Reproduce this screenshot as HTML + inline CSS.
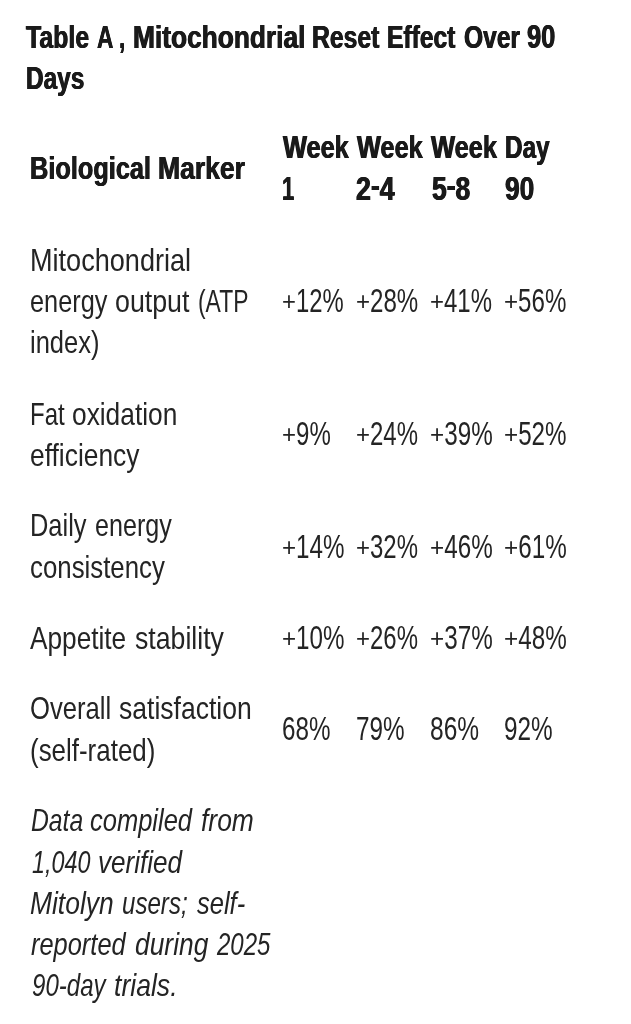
<!DOCTYPE html>
<html lang="en">
<head>
<meta charset="utf-8">
<title>Table A, Mitochondrial Reset Effect Over 90 Days</title>
<style>
html,body{margin:0;padding:0;background:#fff;}
body{width:631px;height:1024px;position:relative;overflow:hidden;font-family:"Liberation Sans",Arial,Helvetica,sans-serif;}
.t{position:absolute;display:block;white-space:nowrap;font-size:32px;line-height:40px;height:40px;transform-origin:0 31.09px;color:#242424;}
.g{margin:0;padding:0;font:inherit;}
.b{font-weight:bold;color:#1a1a1a;text-shadow:0.5px 0 0 #1a1a1a,-0.5px 0 0 #1a1a1a;}
.r{font-weight:normal;}
.i{font-style:italic;}
.h{position:relative;top:-2.7px;}
.p{display:inline-block;transform:scaleY(0.783);transform-origin:50% 20.55px;}
</style>
</head>
<body>
<h1 class="g"><!-- title -->
<span class="t b" style="left:26.10px;top:16.81px;transform:scaleX(0.7773)">Table</span>
<span class="t b" style="left:96.50px;top:16.81px;transform:scaleX(0.7087)">A</span>
<span class="t b" style="left:119.30px;top:16.81px;transform:scaleX(0.7000)">,</span>
<span class="t b" style="left:132.66px;top:16.81px;transform:scaleX(0.8219)">Mitochondrial</span>
<span class="t b" style="left:311.75px;top:16.81px;transform:scaleX(0.7731)">Reset</span>
<span class="t b" style="left:387.06px;top:16.81px;transform:scaleX(0.7691)">Effect</span>
<span class="t b" style="left:464.13px;top:16.81px;transform:scaleX(0.7680)">Over</span>
<span class="t b n" style="left:527.40px;top:16.81px;transform:scale(0.7959,1.035)">90</span>
<span class="t b" style="left:25.87px;top:58.01px;transform:scaleX(0.7625)">Days</span>
</h1>
<div class="g"><!-- header -->
<span class="t b" style="left:30.22px;top:147.91px;transform:scaleX(0.7912)">Biological</span>
<span class="t b" style="left:158.34px;top:147.91px;transform:scaleX(0.8293)">Marker</span>
<span class="t b" style="left:282.80px;top:127.11px;transform:scaleX(0.7931)">Week</span>
<span class="t b" style="left:357.00px;top:127.11px;transform:scaleX(0.7919)">Week</span>
<span class="t b" style="left:431.10px;top:127.11px;transform:scaleX(0.7955)">Week</span>
<span class="t b" style="left:504.68px;top:127.11px;transform:scaleX(0.7591)">Day</span>
<span class="t b n" style="left:281.93px;top:168.91px;transform:scale(0.6867,1.035)">1</span>
<span class="t b n" style="left:356.16px;top:168.91px;transform:scale(0.8360,1.035)">2<span class="h">-</span>4</span>
<span class="t b n" style="left:432.00px;top:168.91px;transform:scale(0.8272,1.035)">5<span class="h">-</span>8</span>
<span class="t b n" style="left:504.68px;top:168.91px;transform:scale(0.8226,1.035)">90</span>
</div>
<div class="g"><!-- row 1 -->
<span class="t r" style="left:30.21px;top:239.91px;transform:scaleX(0.8464)">Mitochondrial</span>
<span class="t r" style="left:29.91px;top:280.71px;transform:scaleX(0.7910)">energy</span>
<span class="t r" style="left:115.16px;top:280.71px;transform:scaleX(0.8368)">output</span>
<span class="t r" style="left:198.09px;top:280.71px;transform:scaleX(0.7144)">(ATP</span>
<span class="t r" style="left:29.80px;top:321.91px;transform:scaleX(0.7976)">index)</span>
<span class="t r n" style="left:282.15px;top:280.71px;transform:scale(0.7456,1.035)"><span class="p">+</span>12%</span>
<span class="t r n" style="left:356.05px;top:280.71px;transform:scale(0.7529,1.035)"><span class="p">+</span>28%</span>
<span class="t r n" style="left:430.45px;top:280.71px;transform:scale(0.7493,1.035)"><span class="p">+</span>41%</span>
<span class="t r n" style="left:504.25px;top:280.71px;transform:scale(0.7542,1.035)"><span class="p">+</span>56%</span>
</div>
<div class="g"><!-- row 2 -->
<span class="t r" style="left:30.40px;top:393.71px;transform:scaleX(0.7510)">Fat</span>
<span class="t r" style="left:71.98px;top:393.71px;transform:scaleX(0.8220)">oxidation</span>
<span class="t r" style="left:29.58px;top:434.71px;transform:scaleX(0.8239)">efficiency</span>
<span class="t r n" style="left:281.95px;top:413.91px;transform:scale(0.7514,1.035)"><span class="p">+</span>9%</span>
<span class="t r n" style="left:356.05px;top:413.91px;transform:scale(0.7493,1.035)"><span class="p">+</span>24%</span>
<span class="t r n" style="left:429.94px;top:413.91px;transform:scale(0.7579,1.035)"><span class="p">+</span>39%</span>
<span class="t r n" style="left:504.24px;top:413.91px;transform:scale(0.7566,1.035)"><span class="p">+</span>52%</span>
</div>
<div class="g"><!-- row 3 -->
<span class="t r" style="left:30.31px;top:505.31px;transform:scaleX(0.7942)">Daily</span>
<span class="t r" style="left:95.22px;top:505.31px;transform:scaleX(0.7848)">energy</span>
<span class="t r" style="left:29.79px;top:546.51px;transform:scaleX(0.8069)">consistency</span>
<span class="t r n" style="left:281.94px;top:526.51px;transform:scale(0.7554,1.035)"><span class="p">+</span>14%</span>
<span class="t r n" style="left:356.05px;top:526.51px;transform:scale(0.7493,1.035)"><span class="p">+</span>32%</span>
<span class="t r n" style="left:429.94px;top:526.51px;transform:scale(0.7579,1.035)"><span class="p">+</span>46%</span>
<span class="t r n" style="left:504.24px;top:526.51px;transform:scale(0.7579,1.035)"><span class="p">+</span>61%</span>
</div>
<div class="g"><!-- row 4 -->
<span class="t r" style="left:30.30px;top:618.01px;transform:scaleX(0.8189)">Appetite</span>
<span class="t r" style="left:134.90px;top:618.01px;transform:scaleX(0.8332)">stability</span>
<span class="t r n" style="left:281.94px;top:618.01px;transform:scale(0.7554,1.035)"><span class="p">+</span>10%</span>
<span class="t r n" style="left:356.05px;top:618.01px;transform:scale(0.7493,1.035)"><span class="p">+</span>26%</span>
<span class="t r n" style="left:429.94px;top:618.01px;transform:scale(0.7579,1.035)"><span class="p">+</span>37%</span>
<span class="t r n" style="left:504.24px;top:618.01px;transform:scale(0.7579,1.035)"><span class="p">+</span>48%</span>
</div>
<div class="g"><!-- row 5 -->
<span class="t r" style="left:29.90px;top:688.41px;transform:scaleX(0.8010)">Overall</span>
<span class="t r" style="left:118.80px;top:688.41px;transform:scaleX(0.8289)">satisfaction</span>
<span class="t r" style="left:30.49px;top:729.61px;transform:scaleX(0.8103)">(self-rated)</span>
<span class="t r n" style="left:281.94px;top:708.91px;transform:scale(0.7573,1.035)">68%</span>
<span class="t r n" style="left:356.04px;top:708.91px;transform:scale(0.7589,1.035)">79%</span>
<span class="t r n" style="left:429.53px;top:708.91px;transform:scale(0.7668,1.035)">86%</span>
<span class="t r n" style="left:504.24px;top:708.91px;transform:scale(0.7605,1.035)">92%</span>
</div>
<p class="g"><!-- footnote -->
<span class="t i" style="left:30.70px;top:799.71px;transform:scaleX(0.7710)">Data</span>
<span class="t i" style="left:90.30px;top:799.71px;transform:scaleX(0.7968)">compiled</span>
<span class="t i" style="left:200.97px;top:799.71px;transform:scaleX(0.8261)">from</span>
<span class="t i" style="left:32.30px;top:841.51px;transform:scaleX(0.7299)">1,040</span>
<span class="t i" style="left:98.39px;top:841.51px;transform:scaleX(0.8146)">verified</span>
<span class="t i" style="left:30.20px;top:882.91px;transform:scaleX(0.8254)">Mitolyn</span>
<span class="t i" style="left:122.25px;top:882.91px;transform:scaleX(0.7531)">users;</span>
<span class="t i" style="left:196.60px;top:882.91px;transform:scaleX(0.7960)">self-</span>
<span class="t i" style="left:30.70px;top:923.91px;transform:scaleX(0.7941)">reported</span>
<span class="t i" style="left:134.88px;top:923.91px;transform:scaleX(0.8247)">during</span>
<span class="t i" style="left:216.55px;top:923.91px;transform:scaleX(0.7515)">2025</span>
<span class="t i" style="left:31.55px;top:965.31px;transform:scaleX(0.7517)">90-day</span>
<span class="t i" style="left:114.27px;top:965.31px;transform:scaleX(0.8314)">trials.</span>
</p>
</body>
</html>
